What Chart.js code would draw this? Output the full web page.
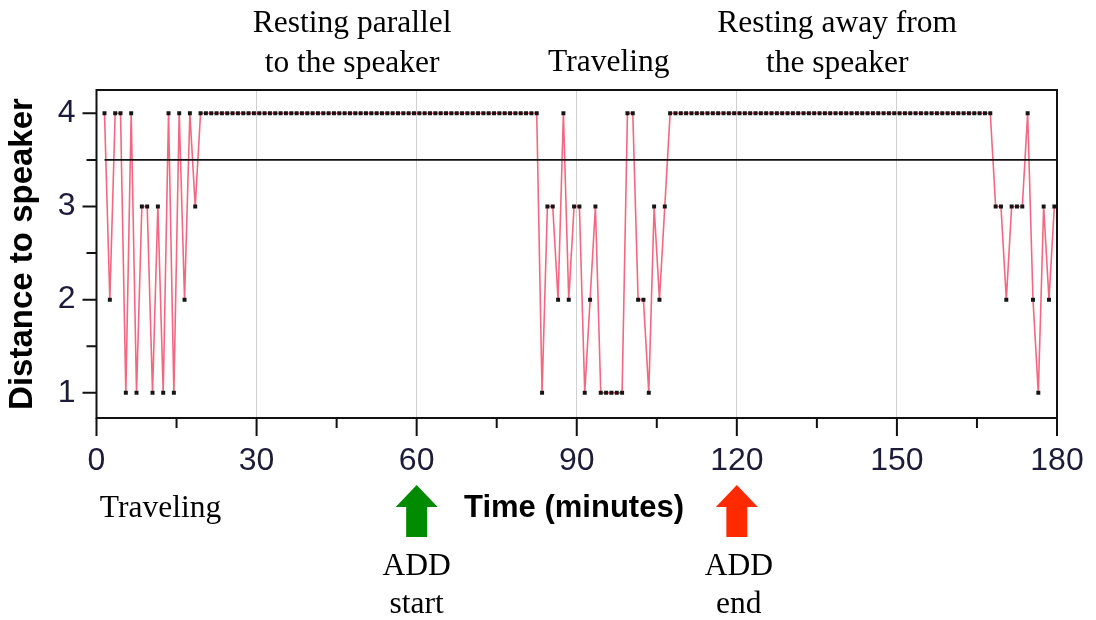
<!DOCTYPE html>
<html>
<head>
<meta charset="utf-8">
<script src="https://cdn.jsdelivr.net/npm/chart.js@4"></script>
<style>
  html, body { margin: 0; padding: 0; background: #fff; }
</style>
</head>
<body>
<canvas id="chart" width="1096" height="620"></canvas>
<script>
// one reading per minute, first one at 1.5 min
const firstSample = 1.5;
const distance = [
  // 1.5 - 19.5 min
  4, 2, 4, 4, 1, 4, 1, 3, 3, 1, 3, 1, 4, 1, 4, 2, 4, 3, 4,
  // 20.5 - 82.5 min
  4, 4, 4, 4, 4, 4, 4, 4, 4, 4,
  4, 4, 4, 4, 4, 4, 4, 4, 4, 4,
  4, 4, 4, 4, 4, 4, 4, 4, 4, 4,
  4, 4, 4, 4, 4, 4, 4, 4, 4, 4,
  4, 4, 4, 4, 4, 4, 4, 4, 4, 4,
  4, 4, 4, 4, 4, 4, 4, 4, 4, 4,
  4, 4, 4,
  // 83.5 - 106.5 min
  1, 3, 3, 2, 4, 2, 3, 3, 1, 2, 3, 1, 1, 1, 1, 1, 4, 4, 2, 2, 1, 3, 2, 3,
  // 107.5 - 167.5 min
  4, 4, 4, 4, 4, 4, 4, 4, 4, 4,
  4, 4, 4, 4, 4, 4, 4, 4, 4, 4,
  4, 4, 4, 4, 4, 4, 4, 4, 4, 4,
  4, 4, 4, 4, 4, 4, 4, 4, 4, 4,
  4, 4, 4, 4, 4, 4, 4, 4, 4, 4,
  4, 4, 4, 4, 4, 4, 4, 4, 4, 4,
  4,
  // 168.5 - 179.5 min
  3, 3, 2, 3, 3, 3, 4, 2, 1, 3, 2, 3
];
const minutes = distance.map((_, i) => firstSample + i);

const threshold = 3.5;
const xLabels = [0, 30, 60, 90, 120, 150, 180];
const xMinor = [15, 45, 75, 105, 135, 165];
const yTicks = [1, 1.5, 2, 2.5, 3, 3.5, 4];
const addStart = 60;
const addEnd = 120;

const SANS = '"Liberation Sans", Arial, sans-serif';
const SERIF = '"Liberation Serif", "Times New Roman", serif';

function drawArrow(ctx, cx, color) {
  ctx.fillStyle = color;
  ctx.beginPath();
  ctx.moveTo(cx, 485);
  ctx.lineTo(cx + 21, 507);
  ctx.lineTo(cx + 10.5, 507);
  ctx.lineTo(cx + 10.5, 537);
  ctx.lineTo(cx - 10.5, 537);
  ctx.lineTo(cx - 10.5, 507);
  ctx.lineTo(cx - 21, 507);
  ctx.closePath();
  ctx.fill();
}

function drawLines(ctx, lines, cx, cy, gap) {
  lines.forEach((t, i) => ctx.fillText(t, cx, cy + i * gap));
}

const framePlugin = {
  id: 'frame',
  beforeDatasetsDraw(chart) {
    const { ctx, chartArea: a, scales: { x, y } } = chart;
    ctx.save();
    ctx.strokeStyle = '#111';
    ctx.lineWidth = 2;
    ctx.strokeRect(a.left, a.top, a.right - a.left, a.bottom - a.top);
    ctx.beginPath();
    xLabels.forEach(v => {
      const px = x.getPixelForValue(v);
      ctx.moveTo(px, a.bottom);
      ctx.lineTo(px, a.bottom + 18);
    });
    xMinor.forEach(v => {
      const px = x.getPixelForValue(v);
      ctx.moveTo(px, a.bottom);
      ctx.lineTo(px, a.bottom + 10);
    });
    yTicks.forEach(v => {
      const py = y.getPixelForValue(v);
      const len = Number.isInteger(v) ? 14 : 10;
      ctx.moveTo(a.left - len, py);
      ctx.lineTo(a.left, py);
    });
    ctx.stroke();
    ctx.restore();
  },
  afterDraw(chart) {
    const { ctx, chartArea: a, scales: { x } } = chart;
    ctx.save();
    ctx.fillStyle = '#000';
    ctx.textAlign = 'center';
    ctx.textBaseline = 'middle';

    // axis titles
    ctx.font = 'bold 31px ' + SANS;
    ctx.fillText('Time (minutes)', 574, 508);
    ctx.save();
    ctx.translate(23, (a.top + a.bottom) / 2);
    ctx.rotate(-Math.PI / 2);
    ctx.font = 'bold 33px ' + SANS;
    ctx.fillText('Distance to speaker', 0, 0);
    ctx.restore();

    // behaviour phases
    ctx.font = '31.5px ' + SERIF;
    drawLines(ctx, ['Resting parallel', 'to the speaker'], x.getPixelForValue(47.9), 24, 40);
    drawLines(ctx, ['Traveling'], x.getPixelForValue(96), 63, 40);
    drawLines(ctx, ['Resting away from', 'the speaker'], x.getPixelForValue(138.8), 24, 40);
    drawLines(ctx, ['Traveling'], x.getPixelForValue(12), 509, 40);

    // ADD markers
    const sx = x.getPixelForValue(addStart);
    const ex = x.getPixelForValue(addEnd);
    drawArrow(ctx, sx, '#008a00');
    drawArrow(ctx, ex, '#ff2a00');
    ctx.fillStyle = '#000';
    drawLines(ctx, ['ADD', 'start'], sx, 567, 38);
    drawLines(ctx, ['ADD', 'end'], ex + 2, 567, 38);
    ctx.restore();
  }
};

new Chart(document.getElementById('chart'), {
  type: 'line',
  data: {
    datasets: [
      {
        label: 'threshold',
        data: [{ x: firstSample, y: threshold }, { x: 180, y: threshold }],
        borderColor: '#111',
        borderWidth: 1.6,
        pointRadius: 0
      },
      {
        label: 'distance',
        data: minutes.map((m, i) => ({ x: m, y: distance[i] })),
        borderColor: 'rgba(240, 45, 80, 0.72)',
        borderWidth: 1.6,
        tension: 0,
        pointStyle: 'rect',
        pointRadius: 2.8,
        pointBorderWidth: 0,
        pointBackgroundColor: '#151515'
      }
    ]
  },
  options: {
    responsive: false,
    animation: false,
    devicePixelRatio: 1,
    layout: { padding: { top: 90, right: 39, bottom: 0, left: 0 } },
    plugins: { legend: { display: false }, tooltip: { enabled: false } },
    scales: {
      x: {
        type: 'linear',
        min: 0,
        max: 180,
        afterBuildTicks: s => { s.ticks = xLabels.map(v => ({ value: v })); },
        afterFit: s => { s.height = 202; s.paddingLeft = 0; s.paddingRight = 0; },
        border: { display: false },
        grid: {
          drawTicks: false,
          lineWidth: 1,
          color: c => (c.tick && (c.tick.value === 0 || c.tick.value === 180)) ? 'rgba(0,0,0,0)' : '#d0d0d0'
        },
        ticks: {
          padding: 24,
          autoSkip: false,
          maxRotation: 0,
          color: '#1c1c3a',
          font: { family: SANS, size: 32 }
        }
      },
      y: {
        min: 0.73,
        max: 4.25,
        afterBuildTicks: s => { s.ticks = yTicks.map(v => ({ value: v })); },
        afterFit: s => { s.width = 96.5; s.paddingTop = 0; s.paddingBottom = 0; },
        border: { display: false },
        grid: { display: false, drawTicks: false },
        ticks: {
          padding: 21,
          color: '#1c1c3a',
          font: { family: SANS, size: 32 },
          callback: v => Number.isInteger(v) ? String(v) : ''
        }
      }
    }
  },
  plugins: [framePlugin]
});
</script>
</body>
</html>
